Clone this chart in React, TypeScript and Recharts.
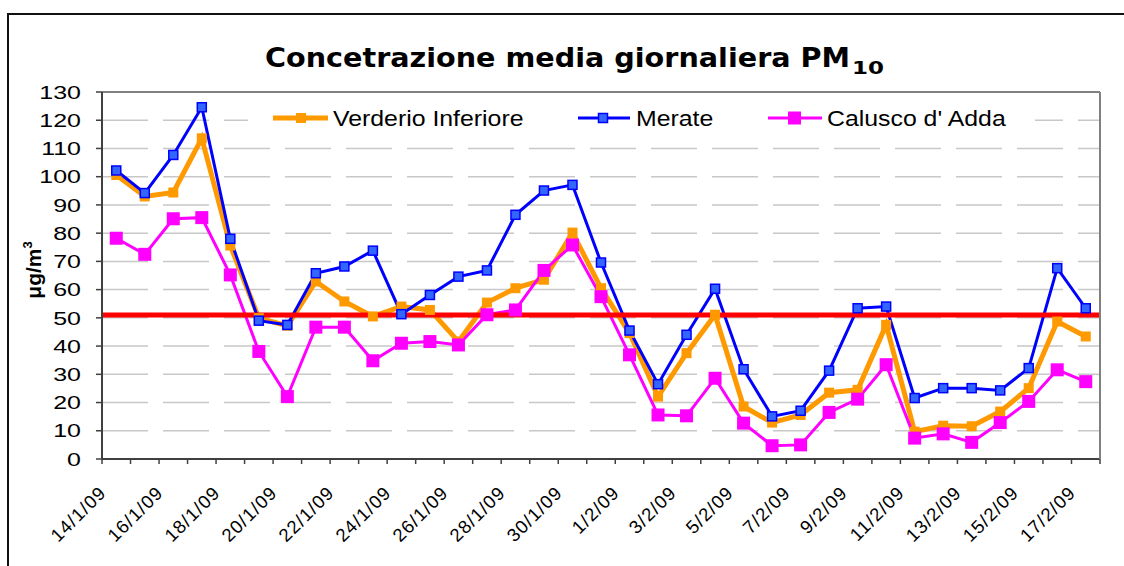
import React from 'react';
import { LineChart, Line, XAxis, YAxis, CartesianGrid, ReferenceLine } from 'recharts';

const dates = [
  '14/1/09', '15/1/09', '16/1/09', '17/1/09', '18/1/09', '19/1/09', '20/1/09', '21/1/09', '22/1/09',
  '23/1/09', '24/1/09', '25/1/09', '26/1/09', '27/1/09', '28/1/09', '29/1/09', '30/1/09', '31/1/09',
  '1/2/09', '2/2/09', '3/2/09', '4/2/09', '5/2/09', '6/2/09', '7/2/09', '8/2/09', '9/2/09',
  '10/2/09', '11/2/09', '12/2/09', '13/2/09', '14/2/09', '15/2/09', '16/2/09', '17/2/09',
];

const verderio = [100.6, 93, 94.4, 113.6, 75.6, 49.9, 47.2, 62.9, 55.8, 50.5, 54, 52.8, 41.6, 55.4, 60.5, 63.5, 80.2, 60.5, 44.6, 22.1, 37.5, 51.1, 18.6, 12.9, 15.6, 23.5, 24.5, 47.5, 9.7, 11.8, 11.6, 16.8, 25.1, 48.7, 43.4];
const merate = [102.2, 94.2, 107.7, 124.6, 78.0, 49.0, 47.5, 65.8, 68.2, 73.8, 51.3, 58.1, 64.6, 66.8, 86.5, 95.1, 97.1, 69.6, 45.5, 26.5, 44, 60.3, 31.8, 15.1, 17.1, 31.3, 53.4, 54, 21.6, 25.1, 25.1, 24.3, 32.2, 67.6, 53.4];
const calusco = [78.2, 72.5, 85.1, 85.5, 65.2, 38.1, 22.1, 46.7, 46.7, 34.8, 41, 41.6, 40.4, 51.1, 52.8, 66.8, 75.8, 57.5, 36.9, 15.6, 15.3, 28.6, 12.7, 4.7, 5.0, 16.5, 21.2, 33.4, 7.4, 8.9, 5.9, 12.9, 20.4, 31.6, 27.4];

const limitValue = 51;
const yTicks = [0, 10, 20, 30, 40, 50, 60, 70, 80, 90, 100, 110, 120, 130];
const xEdgeTicks = Array.from({ length: dates.length + 1 }, (_, k) => k - 0.5);

const data = dates.map((d, i) => ({ i, date: d, verderio: verderio[i], merate: merate[i], calusco: calusco[i] }));

const FONT = '"Liberation Sans", Arial, sans-serif';

const squareDot = (size: number, fill: string, stroke?: string, sw?: number) => (props: any) => {
  const { cx, cy, index } = props;
  if (cx == null || cy == null) return <g key={index} />;
  return (
    <rect key={index} x={cx - size / 2} y={cy - size / 2} width={size} height={size}
      fill={fill} stroke={stroke || 'none'} strokeWidth={sw || 0} />
  );
};

const XTick = (props: any) => {
  const { x, y, payload, width } = props;
  const idx = Math.round(payload.value + 0.5);
  if (idx % 2 !== 0 || idx >= dates.length) return <g />;
  const w = (width || 998) / dates.length;
  const ax = x + w / 2 - 9;
  const ay = y + 28;
  return (
    <text transform={`translate(${ax},${ay}) rotate(-45)`} textAnchor="end" fontSize={18.5}
      letterSpacing={1.1} fill="#000" fontFamily={FONT}>{dates[idx]}</text>
  );
};

const YTick = (props: any) => {
  const { x, y, payload } = props;
  return (
    <text transform={`translate(${x},${y}) scale(1.35,1)`} textAnchor="end" dy="0.36em"
      fontSize={18.5} fill="#000" fontFamily={FONT}>{payload.value}</text>
  );
};

export default function App() {
  return (
    <div style={{ position: 'absolute', left: 0, top: 0, width: 1124, height: 566, background: '#fff', overflow: 'hidden' }}>
      <div style={{ position: 'absolute', left: 7, top: 13, width: 1200, height: 600, borderLeft: '2px solid #111', borderTop: '2px solid #111' }} />
      <div style={{ position: 'absolute', left: 0, top: 0 }}>
        <LineChart width={1124} height={566} data={data} margin={{ top: 92, right: 14, bottom: 17, left: 42 }}>
          <CartesianGrid vertical={false} stroke="#c8c8c8" strokeWidth={1.5} strokeDasharray="46 15" />
          <XAxis dataKey="i" type="number" domain={[-0.5, dates.length - 0.5]} ticks={xEdgeTicks} interval={0}
            height={90} tickSize={5} tick={<XTick />} axisLine={{ stroke: '#404040', strokeWidth: 2 }}
            tickLine={{ stroke: '#404040', strokeWidth: 1.5 }} allowDataOverflow />
          <YAxis domain={[0, 130]} ticks={yTicks} interval={0} width={60} tickSize={6} tickMargin={15}
            tick={<YTick />} axisLine={{ stroke: '#404040', strokeWidth: 2 }} tickLine={{ stroke: '#404040', strokeWidth: 1.5 }} />
          <YAxis yAxisId="r" orientation="right" domain={[0, 130]} tick={false} tickLine={false} width={10}
            axisLine={{ stroke: '#808080', strokeWidth: 2 }} />
          <ReferenceLine y={130} stroke="#808080" strokeWidth={2} />
          <Line dataKey="verderio" stroke="#FF9900" strokeWidth={5} isAnimationActive={false}
            dot={squareDot(10, '#FF9900')} activeDot={false} />
          <Line dataKey="merate" stroke="#0000FF" strokeWidth={3} isAnimationActive={false}
            dot={squareDot(9, '#3366FF', '#0000FF', 1.5)} activeDot={false} />
          <Line dataKey="calusco" stroke="#FF00FF" strokeWidth={3} isAnimationActive={false}
            dot={squareDot(13, '#FF00FF')} activeDot={false} />
          <ReferenceLine y={limitValue} stroke="#FF0000" strokeWidth={5} />
        </LineChart>
      </div>
      <svg width={1124} height={566} style={{ position: 'absolute', left: 0, top: 0, pointerEvents: 'none' }}>
        <text x={265} y={67} textLength={585} lengthAdjust="spacingAndGlyphs" fontSize={27} fontWeight="bold"
          fontFamily='"DejaVu Sans", sans-serif' fill="#000">Concetrazione media giornaliera PM</text>
        <text x={852} y={74} textLength={32} lengthAdjust="spacingAndGlyphs" fontSize={18} fontWeight="bold"
          fontFamily='"DejaVu Sans", sans-serif' fill="#000">10</text>
        <text transform="translate(41,270) rotate(-90)" textAnchor="middle" fontSize={21} fontWeight="bold"
          fontFamily={FONT} fill="#000">μg/m<tspan fontSize={13} dy={-9}>3</tspan></text>
        <rect x={248} y={99} width={787} height={37} fill="#fff" />
        <line x1={273} y1={118} x2={328} y2={118} stroke="#FF9900" strokeWidth={5} />
        <rect x={296} y={113} width={10} height={10} fill="#FF9900" />
        <text x={333} y={118} dy="0.36em" fontSize={21.8} fontFamily={FONT} fill="#000"
          transform="translate(333,0) scale(1.14,1) translate(-333,0)">Verderio Inferiore</text>
        <line x1={578} y1={118} x2={630} y2={118} stroke="#0000FF" strokeWidth={3} />
        <rect x={598.5} y={113.5} width={9} height={9} fill="#3366FF" stroke="#0000FF" strokeWidth={1.5} />
        <text x={636} y={118} dy="0.36em" fontSize={21.8} fontFamily={FONT} fill="#000"
          transform="translate(636,0) scale(1.14,1) translate(-636,0)">Merate</text>
        <line x1={768} y1={118} x2={822} y2={118} stroke="#FF00FF" strokeWidth={3} />
        <rect x={788} y={111.5} width={13} height={13} fill="#FF00FF" />
        <text x={827} y={118} dy="0.36em" fontSize={21.8} fontFamily={FONT} fill="#000"
          transform="translate(827,0) scale(1.14,1) translate(-827,0)">Calusco d' Adda</text>
      </svg>
    </div>
  );
}
